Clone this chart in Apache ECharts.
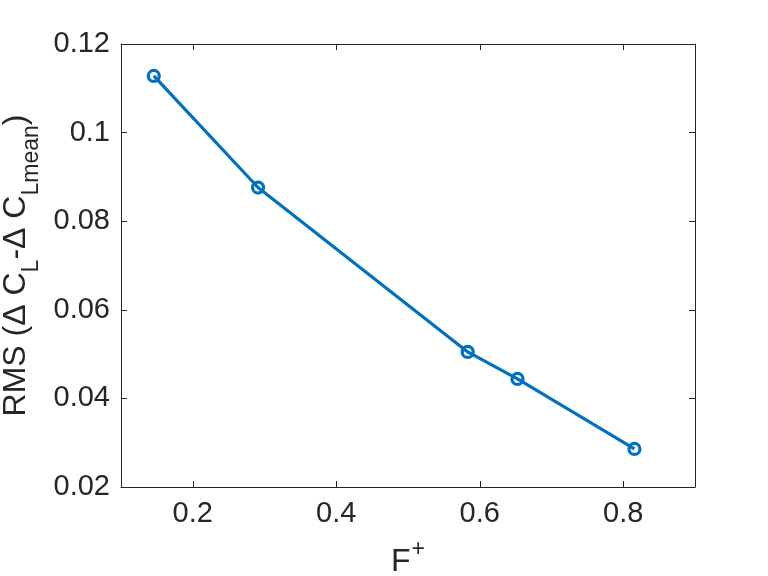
<!DOCTYPE html>
<html>
<head>
<meta charset="utf-8">
<script src="https://cdn.jsdelivr.net/npm/echarts@6/dist/echarts.min.js"></script>
<style>html,body{margin:0;padding:0;background:#fff}#c{width:768px;height:576px}</style>
</head>
<body>
<div id="c"></div>
<script>
const xValues = [0.1457, 0.291, 0.5832, 0.6526, 0.8156];
const yValues = [0.1128, 0.0876, 0.0505, 0.0444, 0.0286];
const xTicks = [0.2, 0.4, 0.6, 0.8];
const yTicks = [0.02, 0.04, 0.06, 0.08, 0.1, 0.12];

const ink = '#262626';
const font = 'Liberation Sans, Arial, Helvetica, sans-serif';
const chart = echarts.init(document.getElementById('c'), null, {renderer: 'canvas'});

const baseX = {
  type: 'value', min: 0.1, max: 0.9,
  axisLine: {show: true, onZero: false, lineStyle: {color: ink, width: 1}},
  axisTick: {show: true, inside: true, length: 6, customValues: xTicks, lineStyle: {color: ink, width: 1}},
  splitLine: {show: false}
};
const baseY = {
  type: 'value', min: 0.02, max: 0.12, interval: 0.02,
  axisLine: {show: true, onZero: false, lineStyle: {color: ink, width: 1}},
  axisTick: {show: true, inside: true, length: 6, lineStyle: {color: ink, width: 1}},
  splitLine: {show: false}
};

chart.setOption({
  animation: false,
  backgroundColor: '#fff',
  grid: {left: 121, right: 73, top: 44, bottom: 89, containLabel: false, outerBoundsMode: 'none'},
  xAxis: [
    Object.assign({}, baseX, {
      position: 'bottom',
      axisLabel: {show: true, customValues: xTicks, color: ink, fontSize: 29, fontFamily: font, margin: 12,
        formatter: v => String(+v.toFixed(2))},
      name: '{a|F}{p|+}',
      nameLocation: 'middle',
      nameGap: 51,
      nameTextStyle: {
        rich: {
          a: {fontSize: 32, fontFamily: font, color: ink, verticalAlign: 'bottom'},
          p: {fontSize: 23, fontFamily: font, color: ink, verticalAlign: 'bottom', padding: [0, 0, 17, 1]}
        }
      }
    }),
    Object.assign({}, baseX, {position: 'top', axisLabel: {show: false}})
  ],
  yAxis: [
    Object.assign({}, baseY, {
      position: 'left',
      axisLabel: {show: true, color: ink, fontSize: 29, fontFamily: font, margin: 11,
        customValues: yTicks,
        formatter: v => String(+v.toFixed(2))},
      name: '{a|RMS (Δ C}{s|L}{a|-Δ C}{s|Lmean}{a|)}',
      nameLocation: 'middle',
      nameGap: 71,
      nameRotate: 90,
      nameTextStyle: {
        rich: {
          a: {fontSize: 32, fontFamily: font, color: ink, verticalAlign: 'bottom', padding: [0, 0, 10, 0]},
          s: {fontSize: 23, fontFamily: font, color: ink, verticalAlign: 'bottom'}
        }
      }
    }),
    Object.assign({}, baseY, {position: 'right', axisLabel: {show: false}})
  ],
  series: [{
    type: 'line',
    xAxisIndex: 0, yAxisIndex: 0,
    data: xValues.map((x, i) => [x, yValues[i]]),
    symbol: 'circle',
    symbolSize: 11,
    showAllSymbol: true,
    lineStyle: {color: '#0072BD', width: 3.2},
    itemStyle: {color: 'rgba(255,255,255,0)', borderColor: '#0072BD', borderWidth: 3.2},
    z: 3
  }]
});
</script>
</body>
</html>
